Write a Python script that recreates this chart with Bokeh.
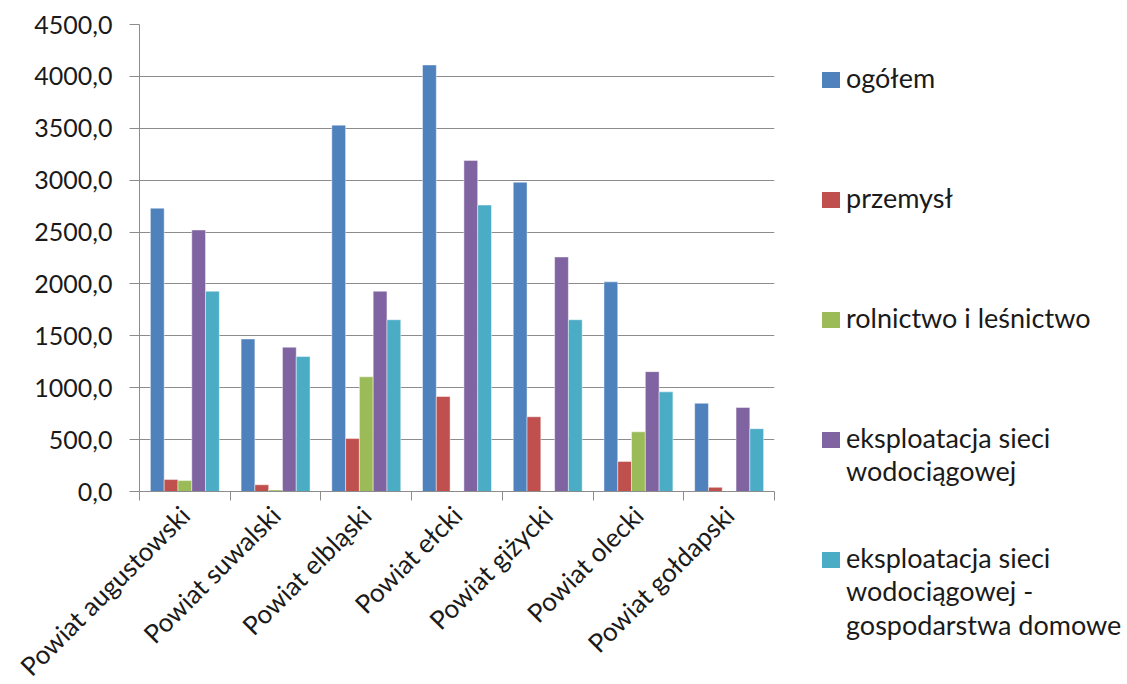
import math
from bokeh.plotting import figure
from bokeh.models import FixedTicker, Range1d, ColumnDataSource, Div
from bokeh.layouts import row
from bokeh.embed import file_html
from bokeh.resources import INLINE
from bokeh.transform import dodge

# ---------------- data ----------------
categories = ["Powiat augustowski", "Powiat suwalski", "Powiat elbląski", "Powiat ełcki",
              "Powiat giżycki", "Powiat olecki", "Powiat gołdapski"]
series_names = ["ogółem", "przemysł", "rolnictwo i leśnictwo", "eksploatacja sieci wodociągowej",
                "eksploatacja sieci wodociągowej - gospodarstwa domowe"]
legend_lines = [["ogółem"], ["przemysł"], ["rolnictwo i leśnictwo"],
                ["eksploatacja sieci", "wodociągowej"],
                ["eksploatacja sieci", "wodociągowej -", "gospodarstwa domowe"]]
ogolem = [2730, 1470, 3530, 4110, 2980, 2020, 850]
przemysl = [115, 65, 510, 915, 720, 290, 40]
rolnictwo = [105, 15, 1105, 0, 0, 575, 0]
eksploatacja = [2520, 1390, 1930, 3190, 2260, 1155, 810]
gospodarstwa = [1930, 1300, 1655, 2760, 1655, 960, 605]
colors = ["#4F81BD", "#C0504D", "#9BBB59", "#8064A2", "#4BACC6"]
y_ticks = list(range(0, 4501, 500))
y_tick_labels = [f"{t},0" for t in y_ticks]

series = [ogolem, przemysl, rolnictwo, eksploatacja, gospodarstwa]

FONT = "Lato"
TEXT_COLOR = "#1a1a1a"
GRID = "#8c8c8c"

FRAME_W, FRAME_H = 635, 467
LEFT, TOP, RIGHT = 139, 24, 24
MAIN_W = LEFT + FRAME_W + RIGHT

idx = list(range(len(categories)))
data = dict(x=idx)
for k, s in enumerate(series):
    data[f"s{k}"] = s
source = ColumnDataSource(data)

p = figure(frame_width=FRAME_W, frame_height=FRAME_H,
           x_range=Range1d(-0.5, len(categories) - 0.5),
           y_range=Range1d(0, 4500), output_backend="svg", toolbar_location=None,
           min_border_left=LEFT, min_border_right=RIGHT, min_border_top=TOP,
           min_border_bottom=185)
p.outline_line_color = None
p.background_fill_color = "white"
p.border_fill_color = "white"

bw = 0.152
for k in range(len(series)):
    off = (k - 2) * bw
    p.vbar(x=dodge("x", off, range=p.x_range), top=f"s{k}", bottom=0, width=bw,
           source=source, fill_color=colors[k], line_color="white", line_alpha=0.45, line_width=1)

# y axis
p.yaxis.ticker = FixedTicker(ticks=y_ticks, minor_ticks=[])
p.yaxis.major_label_overrides = {t: lab for t, lab in zip(y_ticks, y_tick_labels)}
p.yaxis.major_label_text_font = FONT
p.yaxis.major_label_text_font_size = "25px"
p.yaxis.major_label_text_color = TEXT_COLOR
p.yaxis.major_tick_out = 10
p.yaxis.major_tick_in = 0
p.yaxis.major_tick_line_color = GRID
p.yaxis.axis_line_color = GRID
p.yaxis.major_label_standoff = 17

# x axis: labels at centers, ticks at boundaries (minor ticks)
boundaries = [i - 0.5 for i in range(len(categories) + 1)]
p.xaxis.ticker = FixedTicker(ticks=idx, minor_ticks=boundaries)
p.xaxis.major_label_overrides = {i: c for i, c in zip(idx, categories)}
p.xaxis.major_label_orientation = math.radians(45)
p.xaxis.major_label_text_font = FONT
p.xaxis.major_label_text_font_size = "26px"
p.xaxis.major_label_text_color = TEXT_COLOR
p.xaxis.major_tick_out = 0
p.xaxis.major_tick_in = 0
p.xaxis.major_tick_line_color = None
p.xaxis.minor_tick_out = 9
p.xaxis.minor_tick_in = 0
p.xaxis.minor_tick_line_color = GRID
p.xaxis.axis_line_color = GRID
p.xaxis.major_label_standoff = 10

p.xgrid.visible = False
p.ygrid.grid_line_color = GRID
p.ygrid.grid_line_width = 1

# ---------------- legend (HTML panel to the right of the plot) ----------------
item_y0 = 80        # centre of first square, px from top
item_gap = 120
line_gap = 33.5
font_px = 27
sq_w, sq_h = 17.5, 15.5
sq_x = 822 - MAIN_W
txt_x = 846 - MAIN_W
asc = 0.987 * font_px
half_lead = (line_gap - 1.2 * font_px) / 2
parts = []
for i, lines in enumerate(legend_lines):
    cy = item_y0 + item_gap * i
    parts.append(
        f'<div style="position:absolute;left:{sq_x}px;top:{cy - sq_h / 2}px;'
        f'width:{sq_w}px;height:{sq_h}px;background:{colors[i]};"></div>')
    baseline = cy + 8
    top = baseline - asc - half_lead
    text = "<br>".join(lines)
    parts.append(
        f'<div style="position:absolute;left:{txt_x}px;top:{top}px;white-space:nowrap;'
        f'font-family:{FONT};font-size:{font_px}px;line-height:{line_gap}px;'
        f'color:{TEXT_COLOR};margin:0;padding:0;">{text}</div>')
LEG_W = 1127 - MAIN_W
html = (f'<div style="position:relative;width:{LEG_W}px;height:676px;margin:0;padding:0;">'
        + "".join(parts) + "</div>")
legend_div = Div(text=html, width=LEG_W, height=676, margin=0,
                 styles={"margin": "0", "padding": "0"})

layout = row(p, legend_div, spacing=0)
open("out.html", "w").write(file_html(layout, INLINE))
